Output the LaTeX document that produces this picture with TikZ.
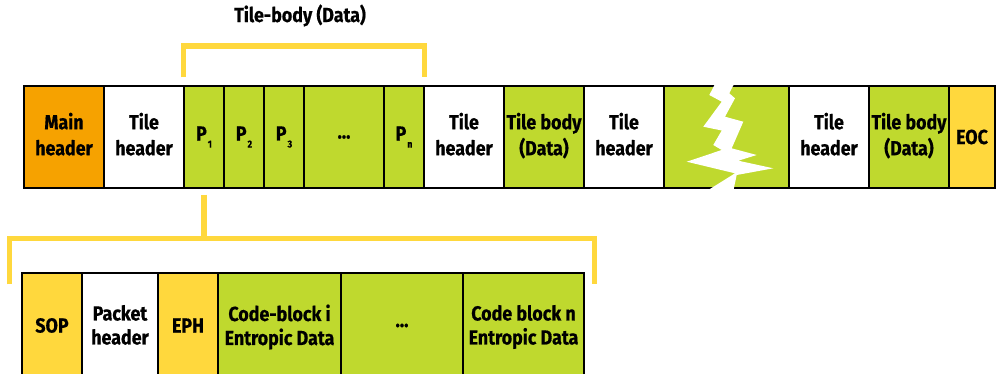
\documentclass[tikz,border=0pt]{standalone}
\usepackage{fontspec}
\setmainfont[FakeStretch=0.88,BoldFeatures={FakeBold=0.6}]{Fira Sans}
\definecolor{lime}{RGB}{191,217,46}
\definecolor{amber}{RGB}{246,162,0}
\definecolor{gold}{RGB}{255,216,61}
\newcommand\psub[1]{P\kern1bp\raisebox{-7bp}{\fontsize{10bp}{10bp}\selectfont #1}}
\begin{document}
\begin{tikzpicture}[x=1bp,y=-1bp,
    txt/.style={font=\bfseries\fontsize{20.3bp}{26bp}\selectfont},
    cell/.style={txt,draw=black,line width=1.2bp,inner sep=0pt,align=center,minimum height=102bp},
    two/.style={text depth=6bp},
    low/.style={cell,minimum height=105bp,font=\bfseries\fontsize{20.3bp}{24bp}\selectfont},
    lowtwo/.style={text depth=1.5bp},
    brace/.style={draw=gold,line width=5.3bp}]
  \useasboundingbox (0,0) rectangle (997,373);
  \draw
    (300,22) node[txt,anchor=base] (title){Tile-body (Data)}
    (64,137) node[cell,two,fill=amber,minimum width=80bp] (main){Main\\header}
    (144,137) node[cell,two,fill=white,minimum width=80bp] (th1){Tile\\header}
    (204,137) node[cell,fill=lime,minimum width=40bp] (p1){\psub{1}}
    (244,137) node[cell,fill=lime,minimum width=40bp] (p2){\psub{2}}
    (284,137) node[cell,fill=lime,minimum width=40bp] (p3){\psub{3}}
    (344,137) node[cell,fill=lime,minimum width=80bp] (pdots){...}
    (404,137) node[cell,fill=lime,minimum width=40bp] (pn){\psub{n}}
    (464,137) node[cell,two,fill=white,minimum width=80bp] (th2){Tile\\header}
    (544,137) node[cell,two,fill=lime,minimum width=80bp] (tb2){Tile body\\(Data)}
    (624,137) node[cell,two,fill=white,minimum width=80bp] (th3){Tile\\header}
    (726.5,137) node[cell,fill=lime,minimum width=125bp] (brk){}
    (829,137) node[cell,two,fill=white,minimum width=80bp] (th4){Tile\\header}
    (909,137) node[cell,two,fill=lime,minimum width=80bp] (tb4){Tile body\\(Data)}
    (972,137) node[cell,fill=gold,minimum width=46bp] (eoc){EOC};
  \fill[white] (715,84) -- (734,84) -- (729.3,93.3) -- (735,98.3) -- (725,116.7)
    -- (743.3,121.7) -- (731.7,148.3) -- (756.7,155) -- (738.3,160.7) -- (773.3,168.3)
    -- (736.7,175) -- (733.3,191) -- (706.7,191) -- (735,173.3) -- (686.7,161.7)
    -- (721.7,150) -- (713.3,145) -- (721.7,130.5) -- (703.3,126.7)
    -- (721.7,101.7) -- (709.3,95) -- cycle;
  \draw
    (52,325.5) node[low,fill=gold,minimum width=60bp] (sop){SOP}
    (120,325.5) node[low,lowtwo,fill=white,minimum width=76bp] (ph){Packet\\header}
    (188,325.5) node[low,fill=gold,minimum width=60bp] (eph){EPH}
    (279.5,325.5) node[low,lowtwo,fill=lime,minimum width=123bp] (cbi){Code-block i\\Entropic Data}
    (402,325.5) node[low,fill=lime,minimum width=122bp] (cdots){...}
    (523.5,325.5) node[low,lowtwo,fill=lime,minimum width=121bp] (cbn){Code block n\\Entropic Data};
  \begin{scope}[brace]
    \draw ([yshift=8bp]p1.north west) -- ++(0,-31.5) -| ([yshift=8bp]pn.north east);
    \draw ([shift={(-12,12)}]sop.north west) -- ++(0,-46) coordinate (pb) -| ([shift={(10,12)}]cbn.north east);
    \draw ([yshift=-6bp]p1.south) -- (p1.south |- pb);
  \end{scope}
\end{tikzpicture}
\end{document}
